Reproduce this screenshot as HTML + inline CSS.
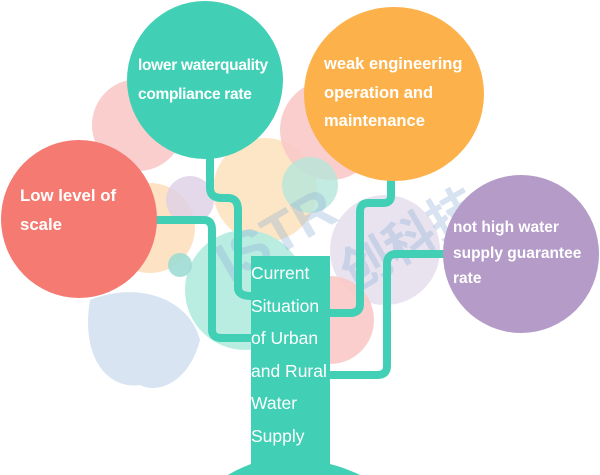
<!DOCTYPE html>
<html><head><style>
body{margin:0;width:600px;height:475px;background:#fff;overflow:hidden;position:relative;font-family:"Liberation Sans","Noto Sans CJK SC",sans-serif;}
svg{position:absolute;left:0;top:0}
.t{position:absolute;color:#fff;white-space:nowrap;}
</style></head><body>
<svg width="600" height="475" viewBox="0 0 600 475">
<circle cx="138" cy="125" r="46" fill="#f9c9c6" opacity="0.9"/>
<circle cx="150" cy="228" r="45" fill="#fde0bd" opacity="0.9"/>
<circle cx="190" cy="200" r="24" fill="#ddd0e6" opacity="0.8"/>
<circle cx="265" cy="190" r="52" fill="#fde3bf" opacity="0.9"/>
<circle cx="330" cy="130" r="50" fill="#f9c9c6" opacity="0.9"/>
<circle cx="310" cy="185" r="28" fill="#b5e6da" opacity="0.8"/>
<circle cx="385" cy="250" r="55" fill="#e3dcec" opacity="0.8"/>
<circle cx="245" cy="290" r="60" fill="#b3ebdf" opacity="0.9"/>
<circle cx="330" cy="320" r="44" fill="#f9c9c6" opacity="0.9"/>
<circle cx="180" cy="265" r="12" fill="#9fdcd4" opacity="0.9"/>
<path d="M90 300 C80 360 110 390 140 385 C160 395 190 380 200 340 C190 300 140 280 90 300Z" fill="#c8d8ec" opacity="0.7"/>
<text x="205" y="250" font-size="56" font-weight="bold" fill="#8fb0d8" opacity="0.35" transform="rotate(-30 280 220)" font-family="Liberation Sans">ISTR</text>
<text x="330" y="255" font-size="50" font-weight="bold" fill="#8fb0d8" opacity="0.35" transform="rotate(-30 410 230)" font-family="Noto Sans CJK SC">创科技</text>
<g fill="none" stroke="#41cfb5" stroke-width="8" stroke-linejoin="round">
<path d="M210 150 V188 Q210 198 222 198 H228 Q238 198 238 210 V288 Q238 296 252 296"/>
<path d="M150 220 H204 Q212 220 212 230 V330 Q212 338 222 338 H252"/>
<path d="M391 175 V196 Q391 203 383 203 H368 Q360 203 360 212 V304 Q360 313 350 313 H330"/>
<path d="M450 254 H396 Q387 254 387 264 V366 Q387 375 377 375 H330"/>
</g>
<ellipse cx="205" cy="80" rx="78" ry="79" fill="#41cfb5"/>
<ellipse cx="394" cy="94" rx="90" ry="87" fill="#fdb14a"/>
<ellipse cx="79" cy="219" rx="78" ry="79" fill="#f47a72"/>
<ellipse cx="521" cy="254" rx="78" ry="79" fill="#b59bc8"/>
<rect x="251" y="256" width="79" height="212" fill="#41cfb5"/>
<path d="M228 475 C238 469 246 466 251 464 L330 464 C338 466 350 470 360 475 Z" fill="#41cfb5"/>
</svg>
<div class="t" style="left:138px;top:51px;font-size:15.5px;font-weight:bold;line-height:29px;letter-spacing:-0.3px">lower waterquality<br>compliance rate</div>
<div class="t" style="left:324px;top:50px;font-size:16.5px;font-weight:bold;line-height:28.5px">weak engineering<br>operation and<br>maintenance</div>
<div class="t" style="left:20px;top:181px;font-size:16.8px;font-weight:bold;line-height:29px">Low level of<br>scale</div>
<div class="t" style="left:453px;top:215px;font-size:15.5px;font-weight:bold;line-height:25.5px">not high water<br>supply guarantee<br>rate</div>
<div class="t" style="left:251px;top:257px;font-size:17.5px;line-height:32.6px">Current<br>Situation<br>of Urban<br>and Rural<br>Water<br>Supply</div>
</body></html>
